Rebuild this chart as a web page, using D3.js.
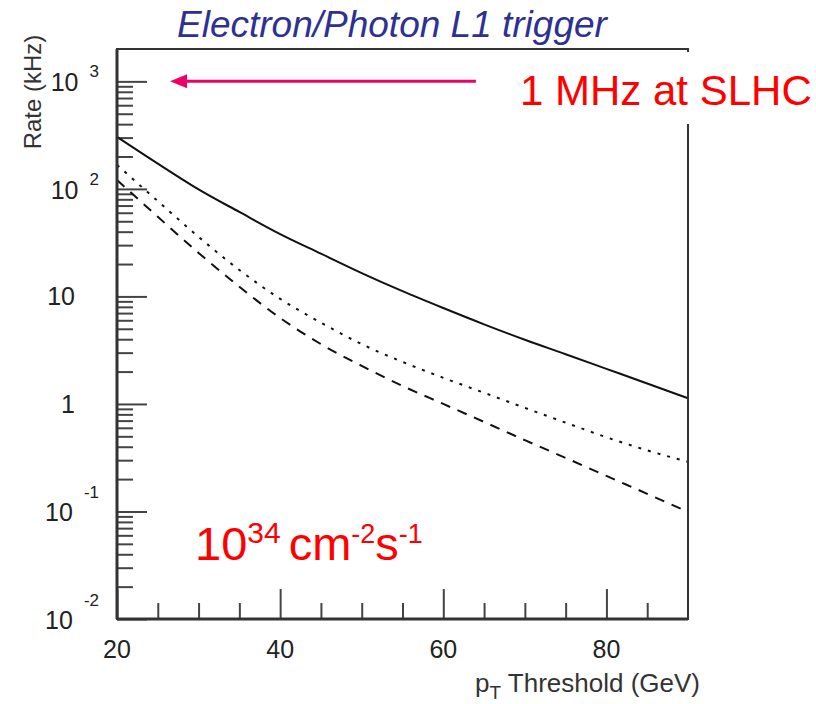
<!DOCTYPE html>
<meta charset="utf-8">
<style>
body { margin: 0; background: #fff; }
svg text { font-family: "Liberation Sans", Arial, sans-serif; }
.frame { fill: none; stroke: #333; stroke-width: 2px; }
.line { fill: none; stroke: #111; stroke-width: 2px; }
.tick line { stroke: #444; stroke-width: 2px; }
.domain { display: none; }
</style>
<body>
<script src="https://d3js.org/d3.v7.min.js"></script>
<script>
// data (rate in kHz vs pT threshold in GeV)
var ptValues   = [20, 25, 30, 35, 40, 45, 50, 55, 60, 65, 70, 75, 80, 85, 90];
var rateSolid  = [305, 172, 99, 61, 38, 25, 16.5, 11.2, 7.8, 5.5, 3.95, 2.9, 2.12, 1.55, 1.13];
var rateDotted = [167, 77, 35.8, 17.6, 9.5, 5.7, 3.6, 2.46, 1.75, 1.27, 0.92, 0.67, 0.49, 0.37, 0.29];
var rateDashed = [121, 55, 25.4, 12.3, 6.3, 3.6, 2.26, 1.47, 1.0, 0.68, 0.46, 0.315, 0.214, 0.146, 0.099];

var xTickValues = [20, 40, 60, 80];
var xMinorValues = [25, 30, 35, 45, 50, 55, 65, 70, 75, 85];
var yTickValues = [0.01, 0.1, 1, 10, 100, 1000];
var yTickBase = ["10", "10", "1", "10", "10", "10"];
var yTickExp = ["-2", "-1", "", "", "2", "3"];

// set the dimensions and margins of the graph
var margin = {top: 49, right: 128, bottom: 85, left: 117},
    width = 816 - margin.left - margin.right,
    height = 704 - margin.top - margin.bottom;

var x = d3.scaleLinear().domain([20, 90]).range([0, width]);
var y = d3.scaleLog().domain([0.01, 2000]).range([height, 0]);

var svg = d3.select("body").append("svg")
    .attr("width", 816)
    .attr("height", 704);

var g = svg.append("g")
    .attr("transform", "translate(" + margin.left + "," + margin.top + ")");

// minor y ticks: 2..9 in each decade
var yMinor = [];
for (var d = -2; d <= 2; d++) {
  for (var k = 2; k <= 9; k++) yMinor.push(k * Math.pow(10, d));
}

g.append("g").call(d3.axisLeft(y).tickValues(yMinor).tickSize(-16).tickFormat(""));
g.append("g").call(d3.axisLeft(y).tickValues(yTickValues).tickSize(-30).tickFormat(""));
g.append("g").attr("transform", "translate(0," + height + ")")
  .call(d3.axisBottom(x).tickValues(xMinorValues).tickSize(-16).tickFormat(""));
g.append("g").attr("transform", "translate(0," + height + ")")
  .call(d3.axisBottom(x).tickValues(xTickValues).tickSize(-30).tickFormat(""));

// lines
var line = function(vals) {
  return d3.line()
    .x(function(d, i) { return x(ptValues[i]); })
    .y(function(d) { return y(d); })
    .curve(d3.curveMonotoneX)(vals);
};

g.append("path").attr("class", "line").attr("d", line(rateSolid));
g.append("path").attr("class", "line").attr("d", line(rateDotted))
  .style("stroke-dasharray", "3,7");
g.append("path").attr("class", "line").attr("d", line(rateDashed))
  .style("stroke-dasharray", "10,8");

// frame
g.append("rect").attr("class", "frame")
  .attr("width", width).attr("height", height);
g.append("line").attr("x1", 0).attr("x2", 0).attr("y1", 0).attr("y2", height)
  .style("stroke", "#333").style("stroke-width", 3);
g.append("line").attr("x1", 0).attr("x2", width).attr("y1", height).attr("y2", height)
  .style("stroke", "#333").style("stroke-width", 3);

// x tick labels
g.selectAll(".xlab").data(xTickValues).enter().append("text")
  .attr("x", function(d) { return x(d); })
  .attr("y", height + 39)
  .style("font-size", "25px").style("fill", "#222")
  .style("text-anchor", "middle")
  .text(function(d) { return d; });

// y tick labels with superscripts
yTickValues.forEach(function(v, i) {
  var t = g.append("text")
    .style("font-size", "25px").style("fill", "#222")
    .style("text-anchor", "end");
  if (yTickExp[i] === "") {
    t.attr("x", -42).attr("y", y(v) + 9).text(yTickBase[i]);
  } else {
    var neg = yTickExp[i].charAt(0) === "-";
    t.attr("x", -18).attr("y", y(v) + 10);
    t.append("tspan").text(yTickBase[i]);
    t.append("tspan").attr("dx", 11).attr("dy", neg ? -23 : -14)
      .style("font-size", "17px").text(yTickExp[i]);
  }
});

// axis titles
svg.append("text")
  .attr("transform", "translate(41,92) rotate(-90)")
  .style("font-size", "24px").style("fill", "#333")
  .style("text-anchor", "middle")
  .text("Rate (kHz)");

var xt = svg.append("text")
  .attr("x", 700).attr("y", 692)
  .style("font-size", "26px").style("fill", "#333")
  .style("text-anchor", "end");
xt.append("tspan").text("p");
xt.append("tspan").attr("dy", 7).style("font-size", "19px").text("T");
xt.append("tspan").attr("dy", -7).text(" Threshold (GeV)");

// title
svg.append("text")
  .attr("x", 177).attr("y", 37)
  .style("font-size", "37px").style("font-style", "italic")
  .style("fill", "#2e3192")
  .text("Electron/Photon L1 trigger");

// 1 MHz annotation
svg.append("rect")
  .attr("x", 500).attr("y", 52).attr("width", 316).attr("height", 72)
  .style("fill", "#fff");
svg.append("text")
  .attr("x", 520).attr("y", 105)
  .style("font-size", "42px").style("fill", "#ff0000")
  .text("1 MHz at SLHC");

var arrowY = margin.top + y(1000);
var arrowX0 = margin.left + x(64);
var arrowX1 = margin.left + x(26.5);
svg.append("line")
  .attr("x1", arrowX0).attr("x2", arrowX1 + 14)
  .attr("y1", arrowY).attr("y2", arrowY)
  .style("stroke", "#f00064").style("stroke-width", 3);
svg.append("path")
  .attr("d", "M" + arrowX1 + "," + arrowY + "l17,-7v14z")
  .style("fill", "#f00064");

// luminosity annotation
var lum = svg.append("text")
  .attr("x", 195).attr("y", 560)
  .style("font-size", "47px").style("fill", "#ff0000");
lum.append("tspan").text("10");
lum.append("tspan").attr("dy", -17).style("font-size", "30px").text("34");
lum.append("tspan").attr("dy", 17).attr("dx", 8).text("cm");
lum.append("tspan").attr("dy", -17).style("font-size", "27px").text("-2");
lum.append("tspan").attr("dy", 17).text("s");
lum.append("tspan").attr("dy", -17).style("font-size", "27px").text("-1");
</script>
</body>
